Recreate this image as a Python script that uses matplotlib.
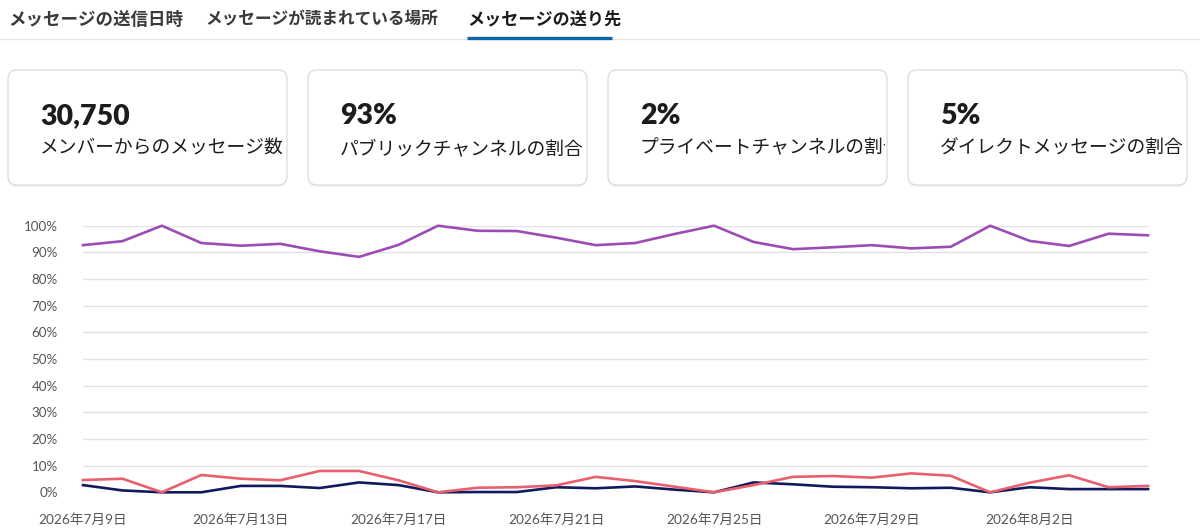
import matplotlib.pyplot as plt
from matplotlib.patches import FancyBboxPatch
from matplotlib.transforms import Bbox, TransformedBbox

plt.rcParams['font.family'] = ['Lato', 'Noto Sans CJK JP', 'DejaVu Sans']

# tabs and summary cards
tabs = ["メッセージの送信日時", "メッセージが読まれている場所", "メッセージの送り先"]
card_values = ["30,750", "93%", "2%", "5%"]
card_labels = ["メンバーからのメッセージ数", "パブリックチャンネルの割合",
               "プライベートチャンネルの割合", "ダイレクトメッセージの割合"]

# daily share (%) 2026-07-09 .. 2026-08-05
public = [92.7, 94.2, 100, 93.5, 92.5, 93.2, 90.4, 88.3, 92.8, 100,
          98.1, 98.0, 95.5, 92.7, 93.5, 96.9, 100, 93.9, 91.2, 91.9,
          92.7, 91.5, 92.1, 100, 94.3, 92.4, 97.0, 96.4]
direct = [4.6, 5.1, 0, 6.5, 5.1, 4.5, 8.0, 8.0, 4.5, 0,
          1.7, 1.9, 2.6, 5.8, 4.2, 2.1, 0, 2.7, 5.8, 6.1,
          5.5, 7.1, 6.2, 0, 3.6, 6.4, 1.9, 2.4]
private = [2.7, 0.7, 0, 0, 2.4, 2.4, 1.6, 3.7, 2.7, 0,
           0.1, 0.1, 1.9, 1.5, 2.2, 1.0, 0, 3.7, 3.0, 2.1,
           1.9, 1.5, 1.7, 0, 1.9, 1.2, 1.2, 1.2]
tick_pos = [0, 4, 8, 12, 16, 20, 24]
tick_labels = ["2026年7月9日", "2026年7月13日", "2026年7月17日", "2026年7月21日",
               "2026年7月25日", "2026年7月29日", "2026年8月2日"]
yticks = [0, 10, 20, 30, 40, 50, 60, 70, 80, 90, 100]

W, H = 1200, 530
fig = plt.figure(figsize=(W / 100, H / 100), dpi=100)

# overlay in pixel coords for the page chrome
bg = fig.add_axes([0, 0, 1, 1])
bg.set_xlim(0, W)
bg.set_ylim(H, 0)
bg.axis("off")

tab_x = [8, 205, 467]
tab_size = [12.6, 12.0, 12.3]
for i, (x, t) in enumerate(zip(tab_x, tabs)):
    active = i == 2
    bg.text(x, 19, t, fontsize=tab_size[i], va="center", ha="left",
            color="#1d1c1d" if active else "#3a3a3a",
            fontweight="bold" if active else "semibold")
bg.plot([0, W], [39, 39], color="#e6e6e6", lw=1)
bg.plot([467, 612], [38, 38], color="#1264a3", lw=2.4, solid_capstyle="butt")

card_x = [8, 308, 608, 908]
for x, v, lab in zip(card_x, card_values, card_labels):
    shadow = FancyBboxPatch((x, 71), 279, 116, boxstyle="round,pad=0,rounding_size=9",
                            facecolor="#000000", edgecolor="none", alpha=0.05)
    bg.add_patch(shadow)
    card = FancyBboxPatch((x, 70), 279, 115, boxstyle="round,pad=0,rounding_size=9",
                          facecolor="white", edgecolor="#dedede", lw=1)
    bg.add_patch(card)
    bg.text(x + 32, 116, v, fontsize=20.5, fontweight="heavy", color="#1d1c1d",
            va="center", ha="left")
    tl = bg.text(x + 32, 148, lab, fontsize=13.5, color="#1d1c1d",
                 va="center", ha="left")
    tl.set_clip_on(True)
    tl.set_clip_box(TransformedBbox(Bbox([[x, 70], [x + 277, 185]]), bg.transData))

# chart
ax = fig.add_axes([83 / W, (H - 492.3) / H, (1148 - 83) / W, (492.3 - 225.7) / H])
days = list(range(len(public)))
ax.plot(days, public, color="#9b4db3", lw=1.9, clip_on=False)
ax.plot(days, private, color="#111a5c", lw=1.9, clip_on=False)
ax.plot(days, direct, color="#e8606d", lw=1.9, clip_on=False)
ax.set_xlim(0, len(public) - 1)
ax.set_ylim(0, 100)
ax.set_yticks(yticks)
ax.set_yticklabels([f"{v}%" for v in yticks])
ax.set_xticks(tick_pos)
ax.set_xticklabels(tick_labels)
ax.grid(axis="y", color="#e2e2e2", lw=1)
ax.set_axisbelow(True)
for s in ax.spines.values():
    s.set_visible(False)
ax.tick_params(axis="y", length=0, pad=18, labelsize=9.6, labelcolor="#555555")
ax.tick_params(axis="x", length=0, pad=15, labelsize=9.8, labelcolor="#555555")
ax.patch.set_alpha(0)

fig.savefig("out.png", dpi=100)
